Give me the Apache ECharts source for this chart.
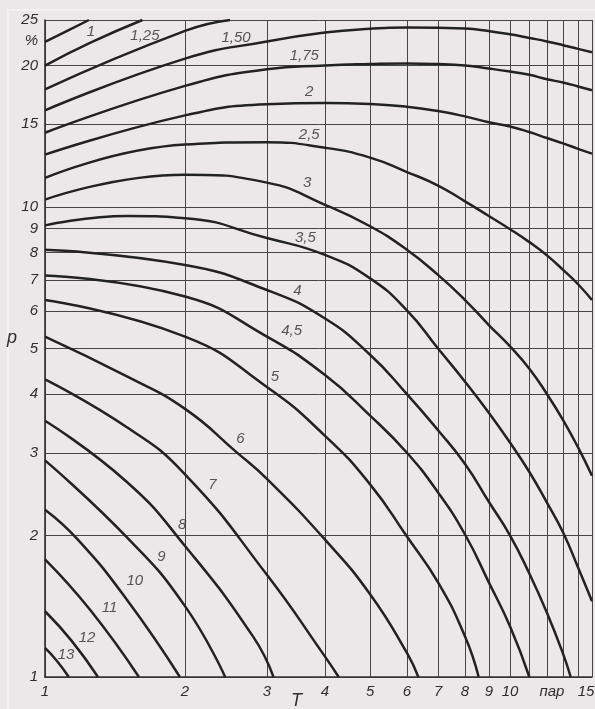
<!DOCTYPE html>
<html>
<head>
<meta charset="utf-8">
<script src="https://cdn.jsdelivr.net/npm/echarts@6/dist/echarts.min.js"></script>
<style>
  html, body { margin: 0; padding: 0; background: #ece8ea; }
  #chart { width: 595px; height: 709px; }
</style>
</head>
<body>
<div id="chart"></div>
<script>
// Axis ticks: T (number of pairs) and p (%), both logarithmic
const tTicks = [1, 2, 3, 4, 5, 6, 7, 8, 9, 10, 11, 12, 13, 14, 15];
const tLabels = [1, 2, 3, 4, 5, 6, 7, 8, 9, 10, 15];
const tUnit = { text: 'пар', at: 12.3 };
const pTicks = [1, 2, 3, 4, 5, 6, 7, 8, 9, 10, 15, 20, 25];
const pLabels = [1, 2, 3, 4, 5, 6, 7, 8, 9, 10, 15, 20, 25];
const pUnit = { text: '%', at: 22.6 };

// Curve family, [T, p] pairs
const curveTop  = [[1, 22.45], [1.116, 23.7], [1.243, 25]];
const curve1    = [[1, 20.0], [1.256, 22.4], [1.62, 25]];
const curve1_25 = [[1, 17.8], [2, 23.7], [2.5, 25]];
const curve1_50 = [[1, 16.06], [2, 20.69], [3, 22.51], [4, 23.51], [5, 23.95], [6, 24.09], [7, 24.06], [8, 23.98], [9, 23.68], [10, 23.32], [11, 22.9], [12, 22.51], [13, 22.1], [14, 21.7], [15, 21.34]];
const curve1_75 = [[1, 14.39], [2, 18.1], [3, 19.64], [4, 20.0], [5, 20.15], [6, 20.21], [7, 20.15], [8, 20.0], [9, 19.71], [10, 19.42], [11, 19.11], [12, 18.7], [13, 18.4], [14, 18.05], [15, 17.72]];
const curve2    = [[1, 12.93], [2, 15.67], [3, 16.54], [4, 16.65], [5, 16.57], [6, 16.34], [7, 16.0], [8, 15.59], [9, 15.15], [10, 14.84], [11, 14.44], [12, 14.02], [13, 13.66], [14, 13.3], [15, 12.99]];
const curve2_5  = [[1, 11.53], [2, 13.58], [3, 13.74], [4, 13.37], [5, 12.74], [6, 11.87], [7, 11.11], [8, 10.28], [9, 9.57], [10, 8.97], [11, 8.42], [12, 7.89], [13, 7.35], [14, 6.85], [15, 6.34]];
const curve3    = [[1, 10.37], [2, 11.72], [3, 11.27], [4, 10.11], [5, 9.1], [6, 8.11], [7, 7.17], [8, 6.34], [9, 5.61], [10, 5.05], [11, 4.53], [12, 4.0], [13, 3.52], [14, 3.08], [15, 2.68]];
const curve3_5  = [[1, 9.14], [1.5, 9.57], [2, 9.47], [3, 8.59], [4, 7.91], [5, 7.05], [6, 6.03], [7, 5.0], [8, 4.25], [9, 3.65], [10, 3.15], [11, 2.73], [12, 2.35], [13, 2.03], [14, 1.71], [15, 1.45]];
const curve4    = [[1, 8.11], [2, 7.53], [3, 6.66], [4, 5.79], [5, 4.85], [6, 4.0], [7, 3.35], [8, 2.84], [9, 2.36], [10, 2.0], [11, 1.66], [12, 1.37], [13, 1.12], [13.5, 1]];
const curve4_5  = [[1, 7.15], [2, 6.45], [3, 5.3], [4, 4.39], [5, 3.6], [6, 3.0], [7, 2.47], [8, 2.01], [9, 1.59], [10, 1.28], [11, 1]];
const curve5    = [[1, 6.34], [2, 5.3], [3, 4.14], [4, 3.26], [5, 2.57], [6, 1.99], [7, 1.59], [8, 1.22], [8.56, 1]];
const curve6    = [[1, 5.3], [1.5, 4.36], [2, 3.72], [2.58, 3.01], [3, 2.64], [4, 1.96], [5, 1.5], [6, 1.125], [6.35, 1]];
const curve7    = [[1, 4.3], [1.5, 3.4], [2, 2.7], [3, 1.65], [4, 1.105], [4.28, 1]];
const curve8    = [[1, 3.51], [1.5, 2.6], [2, 1.9], [2.8, 1.22], [3.1, 1]];
const curve9    = [[1, 2.89], [1.513, 1.965], [2, 1.415], [2.44, 1]];
const curve10   = [[1, 2.27], [1.174, 1.965], [1.5, 1.46], [1.95, 1]];
const curve11   = [[1, 1.78], [1.25, 1.39], [1.592, 1]];
const curve12   = [[1, 1.38], [1.14, 1.195], [1.3, 1]];
const curve13   = [[1, 1.153], [1.06, 1.083], [1.125, 1]];

// Curve captions and their anchor points [T, p]
const labelText = ['1', '1,25', '1,50', '1,75', '2', '2,5', '3', '3,5', '4', '4,5', '5', '6', '7', '8', '9', '10', '11', '12', '13'];
const labelT = [1.256, 1.64, 2.575, 3.61, 3.70, 3.70, 3.66, 3.63, 3.49, 3.39, 3.12, 2.63, 2.29, 1.973, 1.78, 1.56, 1.376, 1.231, 1.11];
const labelP = [23.54, 23.16, 22.96, 20.97, 17.61, 14.25, 11.25, 8.59, 6.62, 5.44, 4.36, 3.21, 2.57, 2.11, 1.80, 1.60, 1.406, 1.213, 1.116];

const curves = [curveTop, curve1, curve1_25, curve1_50, curve1_75, curve2, curve2_5, curve3, curve3_5,
  curve4, curve4_5, curve5, curve6, curve7, curve8, curve9, curve10, curve11, curve12, curve13];

const INK = '#222';
const TEXT_INK = '#2e2e2e';
const FONT = "'Liberation Sans Narrow', 'Liberation Sans', sans-serif";
const textStyle = { fontFamily: FONT, fontStyle: 'italic', fontSize: 15, color: TEXT_INK };

const chart = echarts.init(document.getElementById('chart'), null, { renderer: 'canvas', width: 595, height: 709 });

const series = curves.map(data => ({
  type: 'line',
  data: data,
  symbol: 'none',
  smooth: 0.5,
  clip: true,
  silent: true,
  lineStyle: { color: INK, width: 2.5 },
  z: 3
}));

series.push({
  type: 'scatter',
  data: labelText.map((t, i) => ({ name: t, value: [labelT[i], labelP[i]] })),
  symbolSize: 0,
  silent: true,
  label: Object.assign({ show: true, position: 'inside', formatter: d => d.name }, textStyle),
  z: 5
});

// last T label is pulled inward so it stays on the canvas
const tMax = tLabels[tLabels.length - 1];
function tFormatter(v) {
  if (Math.abs(v - tUnit.at) < 1e-6) return tUnit.text;
  if (Math.abs(v - tMax) < 1e-6) return '{edge|' + v + '}';
  return String(v);
}

chart.setOption({
  animation: false,
  backgroundColor: '#ece8ea',
  grid: { left: 45, right: 3, top: 20, bottom: 32, containLabel: false, outerBoundsMode: 'none' },
  xAxis: {
    type: 'log', logBase: 10, min: 1, max: 15,
    axisLine: { show: true, onZero: false, lineStyle: { color: '#333', width: 1.6 } },
    axisTick: { show: false, customValues: tTicks },
    splitLine: { show: true, lineStyle: { color: '#454545', width: 1 } },
    axisLabel: Object.assign({
      margin: 7,
      customValues: tLabels.concat([tUnit.at]),
      formatter: tFormatter,
      rich: { edge: Object.assign({ padding: [0, 12, 0, 0] }, textStyle) }
    }, textStyle)
  },
  yAxis: {
    type: 'log', logBase: 10, min: 1, max: 25,
    axisLine: { show: true, onZero: false, lineStyle: { color: '#333', width: 1.6 } },
    axisTick: { show: false, customValues: pTicks },
    splitLine: { show: true, lineStyle: { color: '#454545', width: 1 } },
    axisLabel: Object.assign({
      margin: 7,
      customValues: pLabels.concat([pUnit.at]),
      formatter: v => (Math.abs(v - pUnit.at) < 1e-6 ? pUnit.text : String(v))
    }, textStyle)
  },
  graphic: [
    // faint paper edge
    { type: 'polyline', silent: true, shape: { points: [[8, 709], [8, 10], [595, 10]] }, style: { stroke: '#f6f4f5', lineWidth: 1.5, fill: null } },
    { type: 'text', left: 291, top: 692, style: { text: 'T', font: "italic 18px 'Liberation Sans'", fill: TEXT_INK } },
    { type: 'text', left: 7, top: 329, style: { text: 'p', font: "italic 18px 'Liberation Sans'", fill: TEXT_INK } }
  ],
  series: series
});
</script>
</body>
</html>
